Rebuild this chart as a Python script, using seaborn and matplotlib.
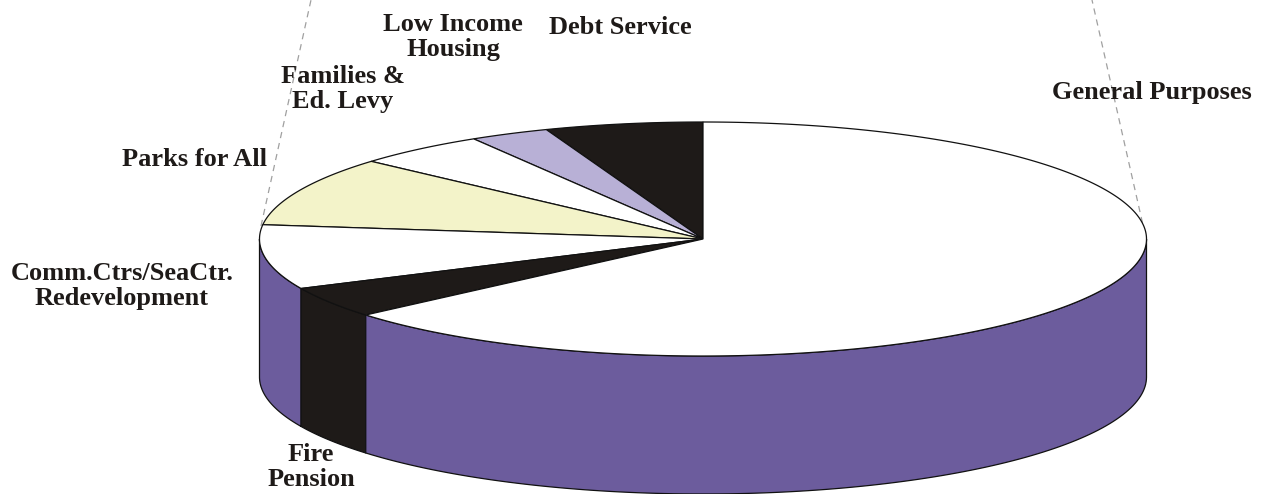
import numpy as np
import matplotlib
matplotlib.use("Agg")
import matplotlib.pyplot as plt
from matplotlib.patches import Polygon
import seaborn as sns

# ---- data (percent of levy), counter-clockwise from 12 o'clock ----
categories = ["Debt Service", "Low Income\nHousing", "Families &\nEd. Levy", "Parks for All",
              "Comm.Ctrs/SeaCtr.\nRedevelopment", "Fire\nPension", "General Purposes"]
values = [5.75, 2.9, 4.8, 9.6, 8.9, 4.3, 63.75]
top_colors = ["#1e1a18", "#b8b0d6", "#ffffff", "#f3f3c9", "#ffffff", "#1e1a18", "#ffffff"]
side_colors = ["#1e1a18", "#8a80b8", "#6c5c9d", "#d8d8a0", "#6c5c9d", "#1e1a18", "#6c5c9d"]

# label anchor positions (pixels)
label_pos = [(620, 27), (453, 37), (343, 89), (194, 159), (122, 286), (311, 467), (1152, 92)]

sns.set_theme(style="white")
plt.rcParams['font.family'] = ['Liberation Serif', 'DejaVu Serif']

W, H = 1263, 494
fig = plt.figure(figsize=(W / 100, H / 100), dpi=100)
ax = fig.add_axes([0, 0, 1, 1])
ax.set_xlim(0, W)
ax.set_ylim(H, 0)
ax.axis("off")

cx, cy, rx, ry, depth = 703, 239, 443.5, 117, 138

def pt(t_deg, dy=0.0):
    t = np.deg2rad(t_deg)
    return cx + rx * np.cos(t), cy - ry * np.sin(t) + dy

total = sum(values)
angles = [90.0]
for v in values:
    angles.append(angles[-1] + 360.0 * v / total)

# side walls (front half: 180..360 deg)
for i in range(len(values)):
    a, b = angles[i], angles[i + 1]
    for off in (0, 360, -360):
        lo, hi = max(a + off, 180), min(b + off, 360)
        if hi > lo:
            ts = np.linspace(lo, hi, 120)
            topx, topy = pt(ts)
            botx, boty = pt(ts[::-1], depth)
            poly = np.column_stack([np.concatenate([topx, botx]), np.concatenate([topy, boty])])
            ax.add_patch(Polygon(poly, closed=True, facecolor=side_colors[i],
                                 edgecolor="#111111", linewidth=0.9, zorder=2))

# top face wedges
for i in range(len(values)):
    a, b = angles[i], angles[i + 1]
    ts = np.linspace(a, b, max(4, int((b - a) * 2)))
    ex, ey = pt(ts)
    poly = np.column_stack([np.concatenate([[cx], ex]), np.concatenate([[cy], ey])])
    ax.add_patch(Polygon(poly, closed=True, facecolor=top_colors[i],
                         edgecolor="#111111", linewidth=0.9, zorder=3))

# dashed leader lines
ax.plot([261, 311], [226, 0], ls=(0, (5, 4)), color="#a0a0a0", lw=0.9, zorder=1)
ax.plot([1145, 1092], [234, 0], ls=(0, (5, 4)), color="#a0a0a0", lw=0.9, zorder=1)

for lab, (x, y) in zip(categories, label_pos):
    ax.text(x, y, lab, ha="center", va="center", fontsize=19, fontweight="bold",
            color="#1e1a18", linespacing=1.12, zorder=5)

fig.savefig("out.png", dpi=100)
